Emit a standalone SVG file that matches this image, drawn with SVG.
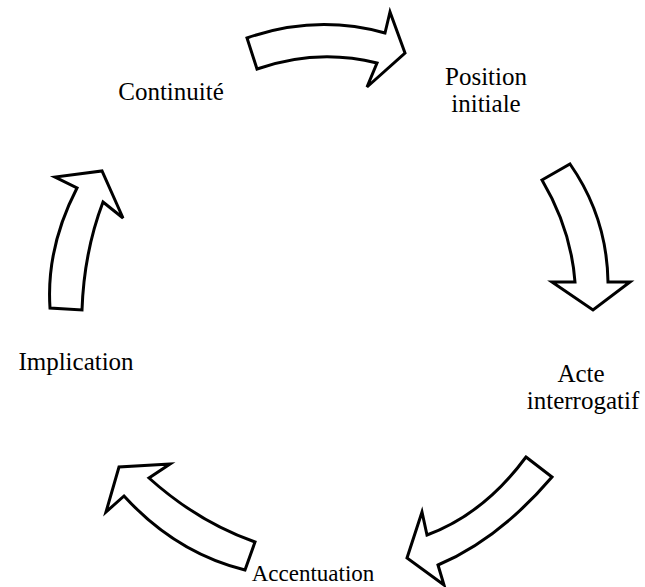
<svg xmlns="http://www.w3.org/2000/svg" width="645" height="587" viewBox="0 0 645 587">
<style>
.arrow{fill:#fff;stroke:#000;stroke-width:3;stroke-linejoin:miter}
.lbl{font-family:"Liberation Serif","Times New Roman",serif;font-size:25px;fill:#000}
</style>
<rect width="645" height="587" fill="#fff"/>
<g id="connectors">
<path id="arrow1" class="arrow" d="M247,38 Q316,14 385,33 L390,12 L405,53 L367,87 L377,63 Q317,48 257,69 Z"/>
<path id="arrow2" class="arrow" d="M542,180 L570,164 Q607,217 608,282 L630,282 L593,310 L552,282 L575,282 Q571,229 542,180 Z"/>
<path id="arrow3" class="arrow" d="M526,457 L552,477 Q499,539 438,565 L444,585 L407,558 L422,512 L427,535 Q484,514 526,457 Z"/>
<path id="arrow4" class="arrow" d="M170,464 L119,467 L106,512 L124,496 Q176,553 245,570 L255,542 Q198,522 149,478 Z"/>
<path id="arrow5" class="arrow" d="M50,308 Q46,248 77,188 L55,177 L102,171 L123,218 L103,202 Q84,252 82,310 Z"/>
</g>
<g id="node-continuite"><text class="lbl" x="171" y="100" text-anchor="middle">Continuité</text></g>
<g id="node-position"><text class="lbl" text-anchor="middle"><tspan x="486" y="85">Position</tspan><tspan x="486" y="112">initiale</tspan></text></g>
<g id="node-acte"><text class="lbl" text-anchor="middle"><tspan x="581" y="382">Acte</tspan><tspan x="583" y="409">interrogatif</tspan></text></g>
<g id="node-implication"><text class="lbl" x="76" y="370" text-anchor="middle">Implication</text></g>
<g id="node-accentuation"><text class="lbl" x="313" y="581" text-anchor="middle" style="font-size:23px">Accentuation</text></g>
</svg>
